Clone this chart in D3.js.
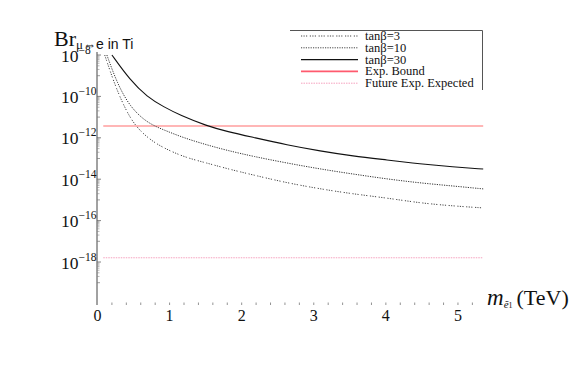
<!DOCTYPE html>
<html><head><meta charset="utf-8">
<script src="https://cdn.jsdelivr.net/npm/d3@7"></script>
<style>body{margin:0;background:#fff}svg{display:block}</style>
</head><body>
<svg id="c" width="581" height="381"></svg>
<script>
// slepton mass m_e1 (TeV) and Br(mu<->e in Ti)
const mass30 = [0.20,0.45,0.69,0.92,1.14,1.52,1.80,2.16,2.63,3.09,3.54,4.02,4.47,4.93,5.35];
const br30   = [1.0e-8,6.2e-10,9.3e-11,3.1e-11,1.26e-11,3.7e-12,2.0e-12,1.05e-12,4.5e-13,2.3e-13,1.32e-13,8.5e-14,5.5e-14,3.9e-14,3.1e-14];
const mass10 = [0.13,0.27,0.45,0.69,0.92,1.20,1.52,1.80,2.16,2.63,3.09,3.54,4.02,4.47,4.93,5.35];
const br10   = [1.0e-8,4.5e-10,3.1e-11,5.2e-12,2.4e-12,9.8e-13,4.5e-13,2.45e-13,1.26e-13,6.0e-14,3.1e-14,1.78e-14,1.02e-14,6.6e-15,4.7e-15,3.4e-15];
const mass3  = [0.10,0.23,0.37,0.52,0.73,0.92,1.20,1.52,1.80,2.16,2.63,3.09,3.54,4.02,4.47,4.93,5.35];
const br3    = [1.0e-8,4.5e-10,3.1e-11,3.7e-12,7.9e-13,3.2e-13,1.17e-13,6.0e-14,3.2e-14,1.6e-14,6.6e-15,3.4e-15,1.95e-15,1.23e-15,7.1e-16,5.1e-16,4.1e-16];
const expBound = 3.7e-12;
const futureBound = 1.6e-18;
const boundRange = [0.08, 5.35];
const xTickLabels = [0,1,2,3,4,5];
const yTickExps = [-8,-10,-12,-14,-16,-18];
const legendLabels = ["tanβ=3","tanβ=10","tanβ=30","Exp. Bound","Future Exp. Expected"];

const svg = d3.select("#c");
const x = d3.scaleLinear().domain([0,5.35]).range([97.5,483.2]);
const y = d3.scaleLog().domain([1e-20,1e-8]).range([303.4,55]);

const serif = "'Liberation Serif','Times New Roman',serif";
const sans = "'Liberation Sans',Arial,sans-serif";

svg.append("defs").append("clipPath").attr("id","clip")
  .append("rect").attr("x",97).attr("y",52).attr("width",390).attr("height",255);

// y axis line
svg.append("line").attr("x1",97).attr("x2",97).attr("y1",52).attr("y2",305)
  .attr("stroke","#444").attr("stroke-width",1);

// y ticks
const gy = svg.append("g");
yTickExps.forEach(n=>{
  gy.append("line").attr("x1",97).attr("x2",101).attr("y1",y(Math.pow(10,n))).attr("y2",y(Math.pow(10,n)))
    .attr("stroke","#666").attr("stroke-width",0.8);
  for(let k=2;k<=9;k++){
    const v = k*Math.pow(10,n-1);
    gy.append("line").attr("x1",97).attr("x2",99.5).attr("y1",y(v)).attr("y2",y(v))
      .attr("stroke","#888").attr("stroke-width",0.6);
  }
  const v1 = Math.pow(10,n-1);
  gy.append("line").attr("x1",97).attr("x2",100).attr("y1",y(v1)).attr("y2",y(v1))
    .attr("stroke","#777").attr("stroke-width",0.7);
  const t = gy.append("text").attr("x",61).attr("y",y(Math.pow(10,n))+6.5)
    .attr("font-family",serif).attr("font-size",17.5).attr("fill","#111");
  t.append("tspan").text("10");
  t.append("tspan").attr("dy",-8).attr("font-size",11.5).text("−"+(-n));
});

// x ticks
const gx = svg.append("g");
d3.range(1,27).forEach(i=>{
  const v = i*0.2;
  gx.append("line").attr("x1",x(v)).attr("x2",x(v)).attr("y1",302.5).attr("y2",305)
    .attr("stroke","#777").attr("stroke-width",0.8);
});
xTickLabels.forEach(v=>{
  gx.append("text").attr("x",x(v)).attr("y",321).attr("text-anchor","middle")
    .attr("font-family",serif).attr("font-size",16).attr("fill","#111").text(v);
});

// bounds
const plot = svg.append("g").attr("clip-path","url(#clip)");
plot.append("line").attr("x1",x(boundRange[0])).attr("x2",x(boundRange[1]))
  .attr("y1",y(expBound)).attr("y2",y(expBound)).attr("stroke","#ff6e6e").attr("stroke-width",1.1);
plot.append("line").attr("x1",x(boundRange[0])).attr("x2",x(boundRange[1]))
  .attr("y1",y(futureBound)).attr("y2",y(futureBound)).attr("stroke","#f5a3bf")
  .attr("stroke-width",1).attr("stroke-dasharray","1.5,1");

// curves
const line = d3.line().x(d=>x(d[0])).y(d=>y(d[1])).curve(d3.curveBasis);
const series = [
  {m:mass3, b:br3, dash:"1.2,1.3,1.2,1.3,1.2,2.6", w:1, c:"#444"},
  {m:mass10, b:br10, dash:"1.2,1.2", w:1, c:"#333"},
  {m:mass30, b:br30, dash:null, w:1.1, c:"#111"}
];
series.forEach(s=>{
  const p = plot.append("path").datum(s.m.map((v,i)=>[v,s.b[i]]))
    .attr("d",line).attr("fill","none").attr("stroke",s.c).attr("stroke-width",s.w);
  if(s.dash) p.attr("stroke-dasharray",s.dash);
});

// title
const tt = svg.append("text").attr("x",54).attr("y",46).attr("fill","#111");
tt.append("tspan").attr("font-family",serif).attr("font-size",22).text("Br");
tt.append("tspan").attr("font-family",serif).attr("font-size",13).attr("dy",3).text("μ⇔");
tt.append("tspan").attr("font-family",sans).attr("font-size",14).attr("dy",0).text("e in Ti");

// x label
const xl = svg.append("text").attr("x",487).attr("y",305).attr("fill","#111").attr("font-family",serif);
xl.append("tspan").attr("font-style","italic").attr("font-size",23).text("m");
xl.append("tspan").attr("font-size",11).attr("dy",3).attr("font-style","italic").text("ẽ");
xl.append("tspan").attr("font-size",8).text("1");
xl.append("tspan").attr("font-size",22).attr("dy",-3).attr("dx",4).text("(TeV)");

// legend
const lg = svg.append("g");
lg.append("path").attr("d","M290,30.5H482.5V90").attr("fill","none").attr("stroke","#555").attr("stroke-width",1);
const legStyles = [
  {c:"#444", dash:"1.2,1.3,1.2,1.3,1.2,2.6", w:1},
  {c:"#444", dash:"1.2,1.2", w:1},
  {c:"#111", dash:null, w:1.2},
  {c:"#ff5a6e", dash:null, w:1.6},
  {c:"#f5a3bf", dash:"1.5,1", w:1}
];
legendLabels.forEach((lab,i)=>{
  const yy = 36 + i*11.8;
  const l = lg.append("line").attr("x1",301).attr("x2",358).attr("y1",yy).attr("y2",yy)
    .attr("stroke",legStyles[i].c).attr("stroke-width",legStyles[i].w);
  if(legStyles[i].dash) l.attr("stroke-dasharray",legStyles[i].dash);
  lg.append("text").attr("x",365).attr("y",yy+4).attr("font-family",serif).attr("font-size",12.5)
    .attr("fill","#111").text(lab);
});
</script>
</body></html>
